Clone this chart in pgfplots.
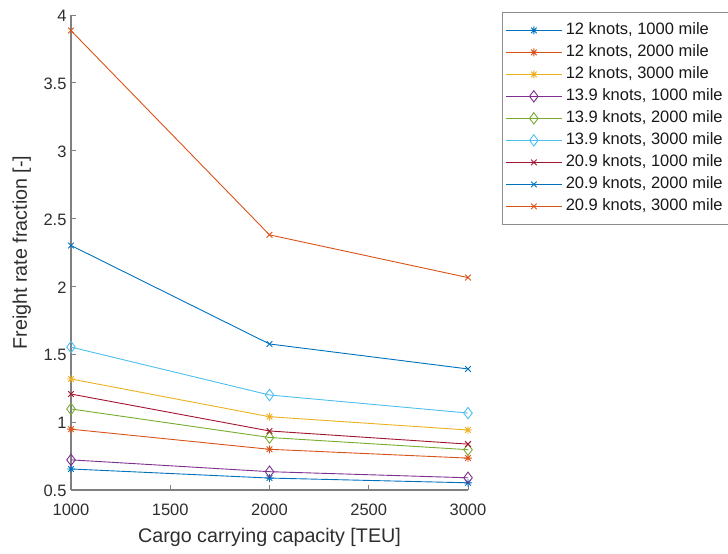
\documentclass[border=0pt]{standalone}
\usepackage{pgfplots}
\pgfplotsset{compat=1.18}
\usepackage{fontspec}
\setmainfont{Liberation Sans}
\definecolor{c1}{rgb}{0,0.447,0.741}
\definecolor{c2}{rgb}{0.85,0.325,0.098}
\definecolor{c3}{rgb}{0.929,0.694,0.125}
\definecolor{c4}{rgb}{0.494,0.184,0.556}
\definecolor{c5}{rgb}{0.466,0.674,0.188}
\definecolor{c6}{rgb}{0.301,0.745,0.933}
\definecolor{c7}{rgb}{0.635,0.078,0.184}
\pgfdeclareplotmark{mstar}{%
  \pgfpathmoveto{\pgfqpoint{-\pgfplotmarksize}{0pt}}\pgfpathlineto{\pgfqpoint{\pgfplotmarksize}{0pt}}%
  \pgfpathmoveto{\pgfqpoint{0pt}{-\pgfplotmarksize}}\pgfpathlineto{\pgfqpoint{0pt}{\pgfplotmarksize}}%
  \pgfpathmoveto{\pgfqpoint{-.707\pgfplotmarksize}{-.707\pgfplotmarksize}}\pgfpathlineto{\pgfqpoint{.707\pgfplotmarksize}{.707\pgfplotmarksize}}%
  \pgfpathmoveto{\pgfqpoint{-.707\pgfplotmarksize}{.707\pgfplotmarksize}}\pgfpathlineto{\pgfqpoint{.707\pgfplotmarksize}{-.707\pgfplotmarksize}}%
  \pgfusepathqstroke}
\begin{document}
\begin{tikzpicture}
\useasboundingbox (0,0) rectangle (728bp,554bp);
\begin{axis}[
  at={(71bp,64bp)}, anchor=south west,
  scale only axis, width=397bp, height=475bp,
  xmin=1000, xmax=3000, ymin=0.5, ymax=4,
  axis lines=left, axis line style={-, black!50, line width=1.5bp},
  tick align=inside, major tick length=5bp,
  tick style={black!50, line width=0.8bp},
  xtick={1000,1500,2000,2500,3000},
  ytick={0.5,1,1.5,2,2.5,3,3.5,4},
  scaled ticks=false,
  /pgf/number format/1000 sep={},
  /pgf/number format/assume math mode=true,
  ticklabel style={font=\fontsize{16.5bp}{19bp}\selectfont, text=black!82},
  xticklabel style={yshift=-10bp},
  yticklabel style={xshift=-1bp, yshift=-1bp},
  label style={font=\fontsize{19.7bp}{23bp}\selectfont, text=black!82},
  xlabel={Cargo carrying capacity [TEU]},
  ylabel={Freight rate fraction [-]},
  xlabel style={at={(axis description cs:0.5,-0.1)}, anchor=center},
  ylabel style={at={(axis description cs:-0.1239,0.5)}, anchor=center},
  every axis plot/.append style={line width=0.9bp, mark options={solid}},
  legend cell align=left,
  legend style={at={(1.0856,1.0063)}, anchor=north west, draw=black!45, line width=0.8bp,
    fill=white, inner xsep=3bp, inner ysep=7bp,
    font=\fontsize{16.5bp}{19bp}\selectfont,
    nodes={text height=12bp, text depth=4bp, inner xsep=3.5bp, inner ysep=3bp, text=black!90}},
  legend image code/.code={\draw[#1, mark repeat=2, mark phase=2] plot coordinates {(0bp,0bp) (28bp,0bp) (56bp,0bp)};},
  clip=false,
]
\addplot[c1, mark=mstar, mark size=4bp] coordinates {(1000,0.655) (2000,0.588) (3000,0.553)};
\addlegendentry{12 knots, 1000 mile}
\addplot[c2, mark=mstar, mark size=4bp] coordinates {(1000,0.948) (2000,0.800) (3000,0.735)};
\addlegendentry{12 knots, 2000 mile}
\addplot[c3, mark=mstar, mark size=4bp] coordinates {(1000,1.318) (2000,1.040) (3000,0.942)};
\addlegendentry{12 knots, 3000 mile}
\addplot[c4, mark=diamond, mark size=5.7bp] coordinates {(1000,0.722) (2000,0.635) (3000,0.590)};
\addlegendentry{13.9 knots, 1000 mile}
\addplot[c5, mark=diamond, mark size=5.7bp] coordinates {(1000,1.097) (2000,0.887) (3000,0.797)};
\addlegendentry{13.9 knots, 2000 mile}
\addplot[c6, mark=diamond, mark size=5.7bp] coordinates {(1000,1.553) (2000,1.200) (3000,1.067)};
\addlegendentry{13.9 knots, 3000 mile}
\addplot[c7, mark=x, mark size=4bp] coordinates {(1000,1.207) (2000,0.935) (3000,0.838)};
\addlegendentry{20.9 knots, 1000 mile}
\addplot[c1, mark=x, mark size=4bp] coordinates {(1000,2.302) (2000,1.576) (3000,1.392)};
\addlegendentry{20.9 knots, 2000 mile}
\addplot[c2, mark=x, mark size=4bp] coordinates {(1000,3.885) (2000,2.380) (3000,2.065)};
\addlegendentry{20.9 knots, 3000 mile}
\end{axis}
\end{tikzpicture}
\end{document}
